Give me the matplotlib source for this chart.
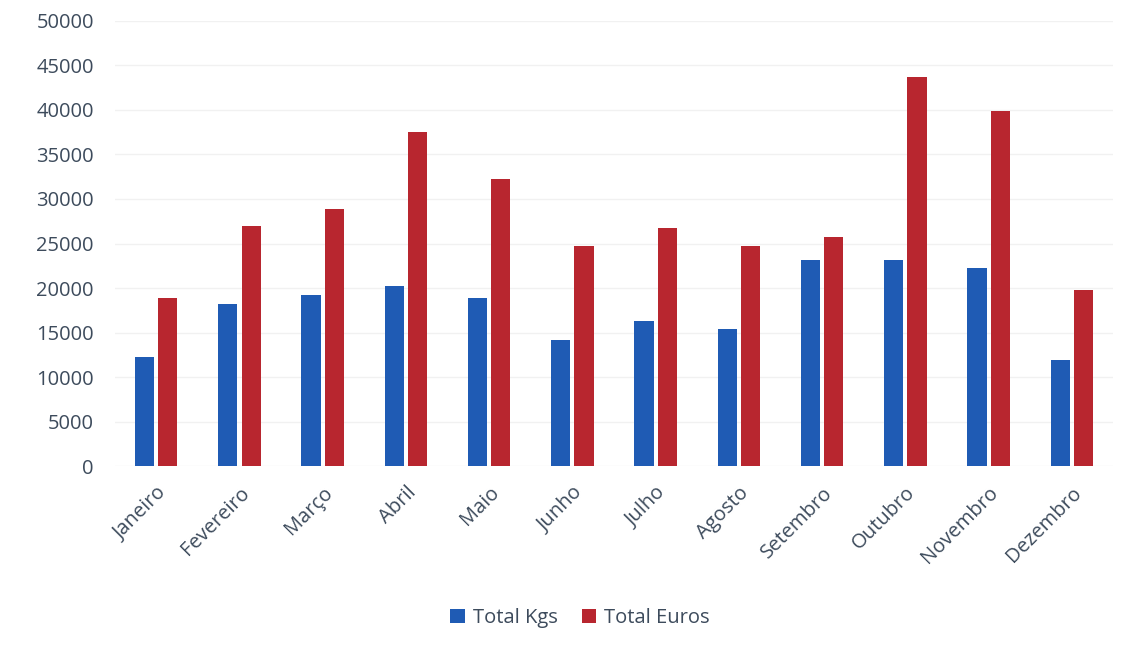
import numpy as np
import matplotlib.pyplot as plt

plt.rcParams['font.family'] = ['Open Sans', 'DejaVu Sans']

# Dados
meses = ['Janeiro', 'Fevereiro', 'Março', 'Abril', 'Maio', 'Junho',
         'Julho', 'Agosto', 'Setembro', 'Outubro', 'Novembro', 'Dezembro']
total_kgs = [12300, 18200, 19200, 20200, 18900, 14200,
             16300, 15400, 23200, 23200, 22200, 11900]
total_euros = [18900, 27000, 28900, 37500, 32300, 24700,
               26700, 24700, 25700, 43700, 39900, 19800]

azul = '#1f5bb4'
vermelho = '#b8262f'
texto = '#3d4b5c'

fig = plt.figure(figsize=(11.35, 6.52), dpi=100)
ax = fig.add_axes([0.101, 0.285, 0.88, 0.683])

x = np.arange(len(meses))
w = 0.23
ax.bar(x - w / 2 - 0.025, total_kgs, w, color=azul, label='Total Kgs', zorder=2)
ax.bar(x + w / 2 + 0.025, total_euros, w, color=vermelho, label='Total Euros', zorder=2)

ax.set_xlim(-0.5, len(meses) - 0.5)
ax.set_ylim(0, 50000)
ax.set_yticks(np.arange(0, 50001, 5000))
ax.yaxis.grid(True, color='#f1f1f1', linewidth=1, zorder=0)
ax.set_xticks(x)
ax.set_xticklabels(meses, rotation=45, ha='right', rotation_mode='anchor')
ax.tick_params(axis='both', length=0, labelsize=14.5, colors=texto)
ax.tick_params(axis='x', pad=12)
ax.tick_params(axis='y', pad=15)
for s in ax.spines.values():
    s.set_visible(False)

fig.legend(*ax.get_legend_handles_labels(), loc='center',
           bbox_to_anchor=(0.511, 0.052), ncol=2, frameon=False,
           fontsize=14.5, handlelength=0.7, handleheight=0.7, handletextpad=0.4,
           columnspacing=1.2, labelcolor=texto)

fig.savefig('out.png', dpi=100)
